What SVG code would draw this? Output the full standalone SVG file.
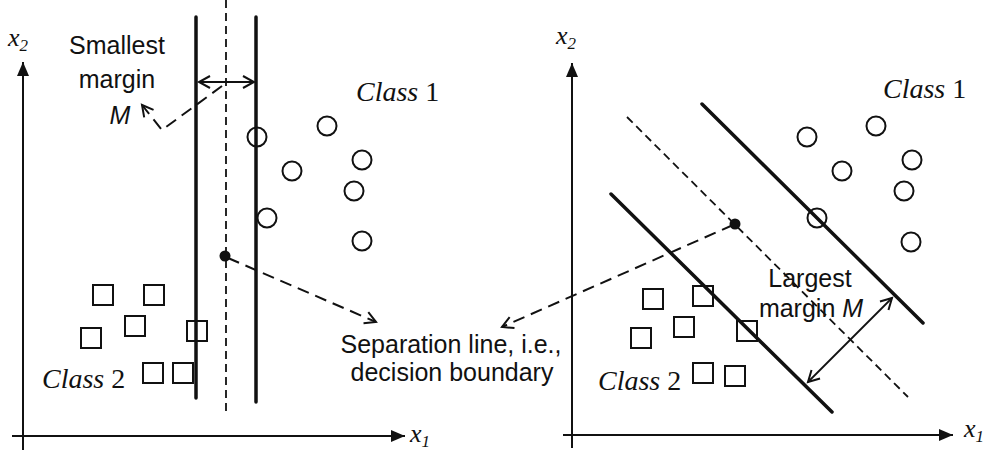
<svg xmlns="http://www.w3.org/2000/svg" width="989" height="453" viewBox="0 0 989 453">
<style>
.axis{stroke:#111;stroke-width:2;fill:none}
.bound{stroke:#111;stroke-width:3.5;fill:none;stroke-linecap:round}
.mid{stroke:#111;stroke-width:1.8;fill:none;stroke-dasharray:8 5}
.conn{stroke:#111;stroke-width:2;fill:none;stroke-dasharray:12 7}
.dbl{stroke:#111;stroke-width:1.8;fill:none}
.pt{stroke:#111;stroke-width:2;fill:none}
.dot{fill:#111}
.sans{font-family:"Liberation Sans",Arial,sans-serif;font-size:25px;fill:#111}
.serif{font-family:"Liberation Serif","Times New Roman",serif;font-size:28px;fill:#111}
.ax{font-family:"Liberation Serif","Times New Roman",serif;font-style:italic;font-size:26px;fill:#111}
.sub{font-size:17px}
</style>
<defs>
<marker id="solid" viewBox="0 0 14 12" refX="14" refY="6" markerWidth="14" markerHeight="12" markerUnits="userSpaceOnUse" orient="auto">
<path d="M0,0 L14,6 L0,12 z" fill="#111"/>
</marker>
<marker id="open" viewBox="-1 -1 14 14" refX="11" refY="6" markerWidth="14" markerHeight="14" markerUnits="userSpaceOnUse" orient="auto-start-reverse" overflow="visible">
<path d="M0,0 L11,6 L0,12" fill="none" stroke="#111" stroke-width="2"/>
</marker>
</defs>

<g id="left-axes">
<line class="axis" x1="23" y1="450" x2="23" y2="62" marker-end="url(#solid)"/>
<line class="axis" x1="12" y1="436" x2="405" y2="436" marker-end="url(#solid)"/>
<text class="ax" x="8" y="46">x<tspan class="sub" dy="5">2</tspan></text>
<text class="ax" x="410" y="442">x<tspan class="sub" dy="5">1</tspan></text>
</g>

<g id="left-boundaries">
<line class="bound" x1="196" y1="17" x2="196" y2="398"/>
<line class="bound" x1="256" y1="17" x2="256" y2="402"/>
<line class="mid" x1="226" y1="0" x2="226" y2="411"/>
<circle class="dot" cx="225" cy="256" r="5.5"/>
</g>

<g id="left-class1">
<circle class="pt" cx="257" cy="137" r="9.5"/>
<circle class="pt" cx="327" cy="126" r="9.5"/>
<circle class="pt" cx="362" cy="160" r="9.5"/>
<circle class="pt" cx="292" cy="171" r="9.5"/>
<circle class="pt" cx="354" cy="191" r="9.5"/>
<circle class="pt" cx="267" cy="218" r="9.5"/>
<circle class="pt" cx="362" cy="241" r="9.5"/>
<text class="serif" x="356" y="101"><tspan font-style="italic">Class</tspan> 1</text>
</g>

<g id="left-class2">
<rect class="pt" x="93" y="285" width="20" height="20"/>
<rect class="pt" x="144" y="285" width="20" height="20"/>
<rect class="pt" x="125" y="316" width="20" height="20"/>
<rect class="pt" x="81" y="328" width="20" height="20"/>
<rect class="pt" x="187" y="321" width="20" height="20"/>
<rect class="pt" x="143" y="363" width="20" height="20"/>
<rect class="pt" x="173" y="363" width="20" height="20"/>
<text class="serif" x="42" y="388"><tspan font-style="italic">Class</tspan> 2</text>
</g>

<g id="left-margin-label">
<text class="sans" x="117" y="54" text-anchor="middle">Smallest</text>
<text class="sans" x="117" y="88" text-anchor="middle">margin</text>
<text class="sans" x="120" y="124" text-anchor="middle" font-style="italic">M</text>
</g>

<g id="separation-label">
<text class="sans" x="451" y="353" text-anchor="middle">Separation line, i.e.,</text>
<text class="sans" x="452" y="381" text-anchor="middle">decision boundary</text>
</g>

<g id="right-axes">
<line class="axis" x1="572" y1="448" x2="572" y2="63" marker-end="url(#solid)"/>
<line class="axis" x1="563" y1="435" x2="953" y2="435" marker-end="url(#solid)"/>
<text class="ax" x="556" y="44">x<tspan class="sub" dy="5">2</tspan></text>
<text class="ax" x="964" y="437">x<tspan class="sub" dy="5">1</tspan></text>
</g>

<g id="right-boundaries">
<line class="bound" x1="702" y1="104" x2="923" y2="323"/>
<line class="bound" x1="611" y1="194" x2="832" y2="412"/>
<line class="mid" x1="627" y1="117" x2="908" y2="397"/>
<circle class="dot" cx="735" cy="224" r="5.5"/>
</g>

<g id="right-class1">
<circle class="pt" cx="807" cy="137" r="9.5"/>
<circle class="pt" cx="876" cy="126" r="9.5"/>
<circle class="pt" cx="842" cy="171" r="9.5"/>
<circle class="pt" cx="912" cy="160" r="9.5"/>
<circle class="pt" cx="904" cy="191" r="9.5"/>
<circle class="pt" cx="817" cy="218" r="9.5"/>
<circle class="pt" cx="911" cy="242" r="9.5"/>
<text class="serif" x="883" y="98"><tspan font-style="italic">Class</tspan> 1</text>
</g>

<g id="right-class2">
<rect class="pt" x="643" y="289" width="20" height="20"/>
<rect class="pt" x="693" y="286" width="20" height="20"/>
<rect class="pt" x="674" y="317" width="20" height="20"/>
<rect class="pt" x="631" y="328" width="20" height="20"/>
<rect class="pt" x="737" y="321" width="20" height="20"/>
<rect class="pt" x="693" y="363" width="20" height="20"/>
<rect class="pt" x="725" y="366" width="20" height="20"/>
<text class="serif" x="598" y="390"><tspan font-style="italic">Class</tspan> 2</text>
</g>

<g id="right-margin-label">
<text class="sans" x="810" y="287" text-anchor="middle">Largest</text>
<text class="sans" x="811" y="317" text-anchor="middle">margin <tspan font-style="italic">M</tspan></text>
</g>

<g id="connectors">
<line class="dbl" x1="199" y1="82" x2="254" y2="82" marker-start="url(#open)" marker-end="url(#open)"/>
<line class="dbl" x1="892" y1="298" x2="808" y2="382" marker-start="url(#open)" marker-end="url(#open)"/>
<polyline class="conn" points="222,86 162,130 142,105" marker-end="url(#open)"/>
<line class="conn" x1="228" y1="258" x2="376" y2="322" marker-end="url(#open)"/>
<line class="conn" x1="733" y1="225" x2="502" y2="327" marker-end="url(#open)"/>
</g>
</svg>
